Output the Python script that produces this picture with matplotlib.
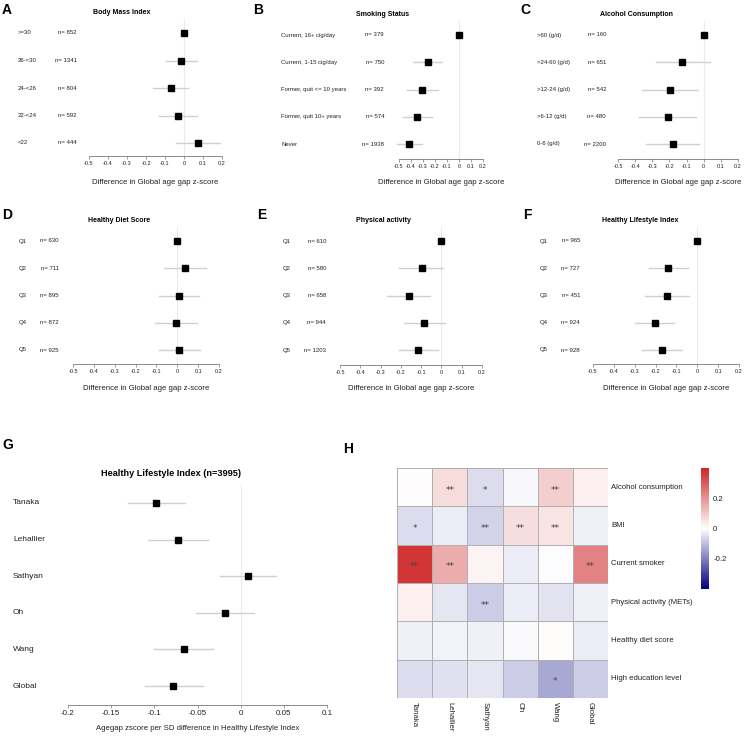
import numpy as np
import matplotlib
matplotlib.use("Agg")
import matplotlib.pyplot as plt
import matplotlib.transforms as mtrans
from matplotlib.colors import LinearSegmentedColormap

plt.rcParams['font.family'] = ['Liberation Sans', 'DejaVu Sans']

nan = np.nan
W, H = 744, 737

# ---- data: panels A-F (top to bottom) ----
bmi_labels = ['>=30', '26-<30', '24-<26', '22-<24', '<22']
bmi_n = [852, 1341, 804, 592, 444]
bmi_est = [0.0, -0.014, -0.07, -0.032, 0.075]
bmi_lo = [nan, -0.093, -0.163, -0.13, -0.04]
bmi_hi = [nan, 0.067, 0.023, 0.068, 0.188]

smoke_labels = ['Current, 16+ cig/day', 'Current, 1-15 cig/day',
                'Former, quit <= 10 years', 'Former, quit 10+ years', 'Never']
smoke_n = [379, 750, 392, 574, 1938]
smoke_est = [0.0, -0.262, -0.307, -0.349, -0.413]
smoke_lo = [nan, -0.38, -0.435, -0.47, -0.52]
smoke_hi = [nan, -0.142, -0.176, -0.226, -0.31]

alc_labels = ['>60 (g/d)', '>24-60 (g/d)', '>12-24 (g/d)', '>6-12 (g/d)', '0-6 (g/d)']
alc_n = [160, 651, 542, 480, 2200]
alc_est = [0.0, -0.124, -0.195, -0.21, -0.177]
alc_lo = [nan, -0.28, -0.36, -0.38, -0.335]
alc_hi = [nan, 0.035, -0.035, -0.045, -0.025]

q_labels = ['Q1', 'Q2', 'Q3', 'Q4', 'Q5']

diet_n = [630, 711, 895, 872, 925]
diet_est = [0.0, 0.037, 0.007, -0.007, 0.01]
diet_lo = [nan, -0.062, -0.089, -0.106, -0.09]
diet_hi = [nan, 0.138, 0.106, 0.093, 0.11]

pa_n = [610, 580, 658, 944, 1203]
pa_est = [0.0, -0.097, -0.162, -0.084, -0.115]
pa_lo = [nan, -0.207, -0.266, -0.184, -0.21]
pa_hi = [nan, 0.01, -0.056, 0.018, -0.018]

hli_n = [965, 727, 451, 924, 928]
hli_est = [0.0, -0.14, -0.147, -0.205, -0.17]
hli_lo = [nan, -0.232, -0.253, -0.297, -0.265]
hli_hi = [nan, -0.046, -0.04, -0.112, -0.072]

# ---- data: panel G ----
clock_names = ['Tanaka', 'Lehallier', 'Sathyan', 'Oh', 'Wang', 'Global']
sd_est = [-0.098, -0.073, 0.0085, -0.018, -0.066, -0.078]
sd_lo = [-0.130, -0.107, -0.024, -0.052, -0.100, -0.111]
sd_hi = [-0.065, -0.038, 0.041, 0.016, -0.032, -0.044]

# ---- data: panel H ----
heat_rows = ['Alcohol consumption', 'BMI', 'Current smoker',
             'Physical activity (METs)', 'Healthy diet score', 'High education level']
heat_vals = [
    [0.005, 0.065, -0.055, -0.01, 0.09, 0.03],
    [-0.055, -0.03, -0.07, 0.06, 0.05, -0.025],
    [0.37, 0.15, 0.02, -0.03, -0.005, 0.23],
    [0.03, -0.04, -0.08, -0.03, -0.045, -0.025],
    [-0.025, -0.02, -0.025, -0.007, 0.008, -0.03],
    [-0.055, -0.047, -0.04, -0.08, -0.135, -0.08],
]
heat_stars = [
    ['', '**', '*', '', '**', ''],
    ['*', '', '**', '**', '**', ''],
    ['**', '**', '', '', '', '**'],
    ['', '', '**', '', '', ''],
    ['', '', '', '', '', ''],
    ['', '', '', '', '*', ''],
]

fig = plt.figure(figsize=(W / 100, H / 100), dpi=100)


def fx(x):
    return x / W


def fy(y):
    return 1 - y / H


def add_ax(l, t, r, b):
    return fig.add_axes([fx(l), fy(b), (r - l) / W, (b - t) / H])


def fmt(v):
    v = round(v, 3)
    return '0' if v == 0 else f"{v:g}"


def forest(x0, x1, xmin, xmax, step, y_first, y_last, y_axis, labels, nvals,
           est, lo, hi, lab_x, n_x, title, title_x, title_y, letter, lx, ly,
           xlabel, xlabel_y, fs=4.3, tfs=5, xfs=5.6, tick_fs=4, ms=3.8,
           top=None):
    n = len(labels)
    sp = (y_last - y_first) / (n - 1)
    t = y_first - 0.5 * sp if top is None else top
    ax = add_ax(x0, t, x1, y_axis)
    ys = np.arange(n, 0, -1)
    ax.set_xlim(xmin, xmax)
    ax.set_ylim(1 - (y_axis - y_last) / sp, n + (y_first - t) / sp)
    ax.axvline(0, color='#ebebeb', lw=0.8, zorder=0)
    for yy, e, a, b in zip(ys, est, lo, hi):
        if not np.isnan(a):
            ax.plot([a, b], [yy, yy], color='#d0d0d0', lw=1.0, clip_on=False, zorder=1)
        ax.plot(e, yy, 's', color='black', ms=ms, clip_on=False, zorder=2)
    for s in ['top', 'left', 'right']:
        ax.spines[s].set_visible(False)
    ax.spines['bottom'].set_bounds(xmin, xmax)
    ax.spines['bottom'].set_color('#777777')
    ax.spines['bottom'].set_linewidth(0.6)
    ticks = np.round(np.arange(xmin, xmax + step / 2, step), 3)
    ax.set_xticks(ticks)
    ax.set_xticklabels([fmt(v) for v in ticks])
    ax.tick_params(axis='x', length=2.2, width=0.5, color='#777777',
                   labelsize=tick_fs, pad=1.5, labelcolor='#222222')
    ax.set_yticks([])
    ax.patch.set_alpha(0)
    tr = mtrans.blended_transform_factory(fig.transFigure, ax.transData)
    for yy, lab in zip(ys, labels):
        ax.text(fx(lab_x), yy, lab, transform=tr, ha='left', va='center',
                fontsize=fs, color='#222222')
    if nvals is not None:
        for yy, nv in zip(ys, nvals):
            ax.text(fx(n_x), yy, f"n= {nv}", transform=tr, ha='right',
                    va='center', fontsize=fs, color='#222222')
    fig.text(fx(title_x), fy(title_y), title, ha='center', va='center',
             fontsize=tfs, fontweight='bold')
    fig.text(fx((x0 + x1) / 2), fy(xlabel_y), xlabel, ha='center',
             va='center', fontsize=xfs, color='#222222')
    fig.text(fx(lx), fy(ly), letter, ha='left', va='center', fontsize=10,
             fontweight='bold')
    return ax


xl = 'Difference in Global age gap z-score'

forest(89, 222, -0.5, 0.2, 0.1, 33, 143, 156, bmi_labels, bmi_n, bmi_est,
       bmi_lo, bmi_hi, 18, 77, 'Body Mass Index', 122, 12, 'A', 2, 10, xl, 183)
forest(399, 483, -0.5, 0.2, 0.1, 35, 144, 159, smoke_labels, smoke_n, smoke_est,
       smoke_lo, smoke_hi, 281, 384, 'Smoking Status', 383, 14, 'B', 253, 10, xl, 182)
forest(618, 738, -0.5, 0.2, 0.1, 35, 144, 159, alc_labels, alc_n, alc_est,
       alc_lo, alc_hi, 537, 606, 'Alcohol Consumption', 637, 14, 'C', 520, 10, xl, 182)
forest(73, 219, -0.5, 0.2, 0.1, 241, 350, 364, q_labels, diet_n, diet_est,
       diet_lo, diet_hi, 19, 59, 'Healthy Diet Score', 119, 220, 'D', 2, 215, xl, 388)
forest(340, 482, -0.5, 0.2, 0.1, 241, 350, 365, q_labels, pa_n, pa_est,
       pa_lo, pa_hi, 283, 326, 'Physical activity', 383, 220, 'E', 257, 215, xl, 388)
forest(593, 739, -0.5, 0.2, 0.1, 241, 350, 364, q_labels, hli_n, hli_est,
       hli_lo, hli_hi, 540, 580, 'Healthy Lifestyle Index', 640, 220, 'F', 523, 215, xl, 388)

forest(68, 327, -0.2, 0.1, 0.05, 503, 686, 705, clock_names, None, sd_est,
       sd_lo, sd_hi, 13, 0, 'Healthy Lifestyle Index (n=3995)', 171, 474, 'G', 2, 445,
       'Agegap zscore per SD difference in Healthy Lifestyle Index', 729,
       fs=6, tfs=6.6, xfs=5.6, tick_fs=5.8, ms=4.4, top=485)

# ---- panel H: heatmap ----
cmap = LinearSegmentedColormap.from_list('nwr', ['#000080', '#ffffff', '#CD2626'])
hx0, hx1, hy0, hy1 = 397, 608, 468, 698
axh = add_ax(hx0, hy0, hx1, hy1)
vals = np.array(heat_vals)
mesh = axh.pcolormesh(vals, cmap=cmap, vmin=-0.4, vmax=0.4,
                      edgecolors='#b0b0b0', linewidth=0.7)
axh.set_xlim(0, vals.shape[1])
axh.set_ylim(vals.shape[0], 0)
axh.set_xticks([])
axh.set_yticks([])
for s in axh.spines.values():
    s.set_visible(False)
for i in range(vals.shape[0]):
    for j in range(vals.shape[1]):
        if heat_stars[i][j]:
            axh.text(j + 0.5, i + 0.58, heat_stars[i][j], ha='center', va='center',
                     fontsize=6.5, color='#444444', family='DejaVu Sans')
trh = mtrans.blended_transform_factory(fig.transFigure, axh.transData)
for i, lab in enumerate(heat_rows):
    axh.text(fx(611), i + 0.5, lab, transform=trh, ha='left', va='center',
             fontsize=5.6, color='#222222')
trc = mtrans.blended_transform_factory(axh.transData, fig.transFigure)
for j, lab in enumerate(clock_names):
    axh.text(j + 0.5, fy(702), lab, transform=trc, ha='center', va='top',
             rotation=270, fontsize=5.6, color='#222222')

cax = add_ax(701, 468, 709, 589)
cb = fig.colorbar(mesh, cax=cax, ticks=[-0.2, 0, 0.2])
cb.outline.set_visible(False)
cb.ax.set_yticklabels(['-0.2', '0', '0.2'])
cb.ax.tick_params(length=0, labelsize=5.6, pad=3, labelcolor='#222222')
fig.text(fx(343), fy(449), 'H', ha='left', va='center', fontsize=10,
         fontweight='bold')

fig.savefig('out.png', dpi=100)
